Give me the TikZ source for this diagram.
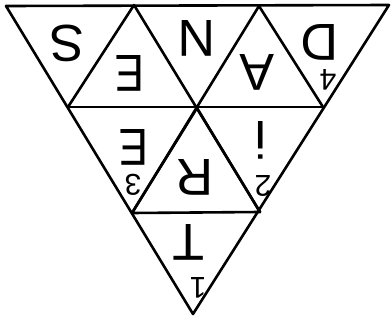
\documentclass[tikz,border=0pt]{standalone}
\usepackage{fontspec}
\setmainfont{Liberation Sans}
\begin{document}
\begin{tikzpicture}[x=1pt,y=-1pt,
  edge/.style={line width=2.6pt,line cap=round,line join=round},
  letter/.style={rotate=180,inner sep=0pt,font=\fontsize{52}{52}\selectfont},
  digit/.style={rotate=180,inner sep=0pt,font=\fontsize{30}{30}\selectfont}]
\useasboundingbox (0,0) rectangle (392,327);
\fill[white] (0,0) rectangle (392,327);
% corners
\coordinate (L) at (6,6);
\coordinate (R) at (389,5);
\coordinate (B) at (193,314);
\coordinate (T1) at (134,5);
\coordinate (T2) at (259,6);
\coordinate (M1) at (68,107);
\coordinate (M2) at (197,108);
\coordinate (M3) at (323,107);
\coordinate (N1) at (132,213);
\coordinate (N2) at (260,212);
% outline
\draw[edge] (L) -- (R) -- (B) -- cycle;
\draw[edge] (M1) -- (M3);
\draw[edge] (N1) -- (N2);
\draw[edge] (T1) -- (M1);
\draw[edge] (T1) -- (N2);
\draw[edge] (T2) -- (N1);
\draw[edge] (T2) -- (M3);
\draw[edge] (M2) -- (N1);
\draw[edge] (M2) -- (N2);
% letters
\node[letter] (s) at (67,43) {S};
\node[letter,xscale=0.85] (e1) at (130,73) {E};
\node[letter] (n) at (197,38) {N};
\node[letter] (a) at (257,72) {A};
\node[letter] (d) at (320,42) {D};
\node[digit] (d4) at (328,80) {4};
\node[letter,xscale=0.85] (e2) at (134,147) {E};
\node[digit] (d3) at (133,185) {3};
\node[letter] (r) at (195,177) {R};
\node[letter] (i) at (261,140) {i};
\node[digit] (d2) at (263,186) {2};
\node[letter] (t) at (189,242) {T};
\node[digit] (d1) at (198,288) {1};
\end{tikzpicture}
\end{document}
